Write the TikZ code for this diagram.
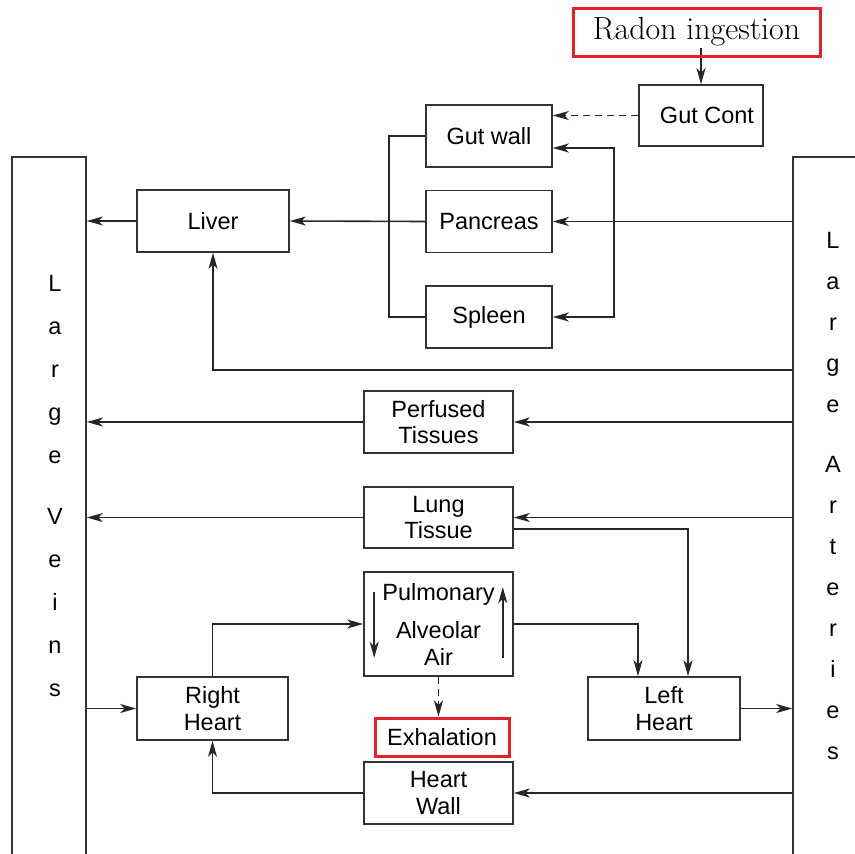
\documentclass[tikz,border=0pt]{standalone}
\usepackage{fontspec}
\newfontfamily\arialfont{Liberation Sans}
\usepackage{xcolor}
\definecolor{alarmred}{HTML}{E3212B}
\usetikzlibrary{arrows.meta}

\begin{document}
\begin{tikzpicture}[x=1pt,y=-1pt,
    box/.style={draw=black!80, line width=1.6pt, inner sep=0pt, align=center,
      font=\arialfont\fontsize{23.5}{26.5}\selectfont},
    redbox/.style={box, draw=alarmred, line width=3pt},
    vessel/.style={box, minimum height=712},
    letters/.style={inner sep=0pt, anchor=north, align=center},
    line/.style={draw=black!85, line width=1.6pt},
    arr/.style={line, -{Stealth[length=16pt,width=9pt,inset=4.5pt]}},
    dasharr/.style={arr, dash pattern=on 7pt off 5pt}]
  \useasboundingbox (0,0) rectangle (855,854);
  \clip (0,0) rectangle (855,854);
  % \draw[style=help lines,step=50] (0,0) grid (855,854);
  \node[box, minimum width=124, minimum height=61] (gutcont) at (701,115.5) {\hspace*{12pt}Gut Cont};
  \node[box, minimum width=126, minimum height=62] (gutwall) at (489,136) {Gut wall};
  \node[box, minimum width=126, minimum height=62] (pancreas) at (489,221.5) {Pancreas};
  \node[box, minimum width=126, minimum height=62] (spleen) at (489,317) {Spleen};
  \node[box, minimum width=152, minimum height=62] (liver) at (213,221) {Liver};
  \node[box, minimum width=149, minimum height=62] (perf) at (438.5,422) {Perfused\\Tissues};
  \node[box, minimum width=149, minimum height=61] (lung) at (438.5,517.5) {Lung\\Tissue};
  \node[box, minimum width=149, minimum height=104] (pulm) at (438.5,624) {Pulmonary\\[12pt]Alveolar\\Air};
  \node[box, minimum width=151, minimum height=63] (rheart) at (212.5,708.5) {Right\\Heart};
  \node[box, minimum width=152, minimum height=63] (lheart) at (664,708.5) {Left\\Heart};
  \node[box, minimum width=149, minimum height=62] (hwall) at (438.5,793) {Heart\\Wall};
  \node[vessel, minimum width=74] (veins) at (49,513) {};
  \node[vessel, minimum width=100] (arteries) at (843,513) {};
  \node[letters, font=\arialfont\fontsize{23.5}{43}\selectfont] (veinsname) at (55,275)
    {L\\a\\r\\g\\e\\[18pt]V\\e\\i\\n\\s};
  \node[letters, font=\arialfont\fontsize{23.5}{41}\selectfont] (arteriesname) at (833,232)
    {L\\a\\r\\g\\e\\[19pt]A\\r\\t\\e\\r\\i\\e\\s};
  \coordinate (lbr) at (389,0);
  \coordinate (rbr) at (614,0);
  % gut loop
  \draw[arr] (gutcont.north |- 0,48) -- (gutcont.north);
  \draw[dasharr] (gutcont.west) -- (gutcont.west -| gutwall.east);
  \draw[line] (gutwall.west) -- (gutwall.west -| lbr) -- (spleen.west -| lbr) -- (spleen.west);
  \draw[arr] (pancreas.west) -- (liver.east);
  \draw[arr] (arteries.west |- pancreas) -- (pancreas.east);
  \draw[arr] (pancreas.east -| rbr) |- ([yshift=-12]gutwall.east);
  \draw[arr] (pancreas.east -| rbr) |- (spleen.east);
  \draw[arr] (liver.west) -- (liver.west -| veins.east);
  \draw[arr] (arteries.west |- 0,370) -| (liver.south);
  % tissues
  \draw[arr] (arteries.west |- perf) -- (perf.east);
  \draw[arr] (perf.west) -- (perf.west -| veins.east);
  \draw[arr] (arteries.west |- lung) -- (lung.east);
  \draw[arr] (lung.west) -- (lung.west -| veins.east);
  \draw[arr] ([yshift=-11.5]lung.east) -| ([xshift=24]lheart.north);
  % heart and lungs
  \draw[arr] (veins.east |- rheart) -- (rheart.west);
  \draw[arr] (rheart.north) |- (pulm.west);
  \draw[arr] (pulm.east) -| ([xshift=-26]lheart.north);
  \draw[arr] ([shift={(11,21)}]pulm.north west) -- ([shift={(11,-19)}]pulm.south west);
  \draw[arr] ([shift={(-11,-19)}]pulm.south east) -- ([shift={(-11,16)}]pulm.north east);
  \draw[arr] (lheart.east) -- (lheart.east -| arteries.west);
  \draw[arr] (arteries.west |- hwall) -- (hwall.east);
  \draw[arr] (hwall.west) -| (rheart.south);
  \node[redbox, minimum width=134, minimum height=38] (exhal) at (442,737) {Exhalation};
  \draw[dasharr] (pulm.south) -- (pulm.south |- exhal.north);
  \node[redbox, minimum width=247, minimum height=48, font=\fontsize{32}{36}\selectfont] (radon) at (696.5,32) {Radon ingestion};
\end{tikzpicture}
\end{document}
